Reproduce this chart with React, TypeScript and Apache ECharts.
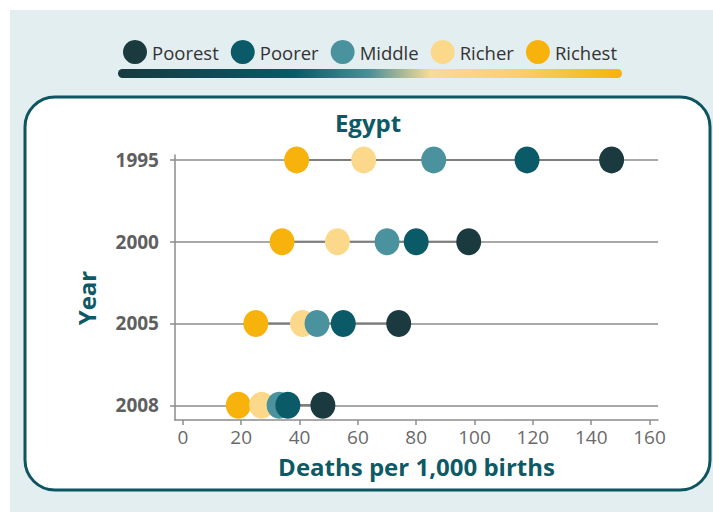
import React, { useEffect, useRef } from "react";
import * as echarts from "echarts";

const years = ["1995", "2000", "2005", "2008"];
const groups = ["Poorest", "Poorer", "Middle", "Richer", "Richest"];
const poorest = [147, 98, 74, 48];
const poorer = [118, 80, 55, 36];
const middle = [86, 70, 46, 33];
const richer = [62, 53, 41, 27];
const richest = [39, 34, 25, 19];
const xTicks = [0, 20, 40, 60, 80, 100, 120, 140, 160];
const colors: Record<string, string> = {
  Poorest: "#1b3a40",
  Poorer: "#0a5a68",
  Middle: "#4a929d",
  Richer: "#fcd98a",
  Richest: "#f8b20c",
};

const FONT = "Open Sans";
const TEAL = "#0d5a66";

export default function App() {
  const ref = useRef<HTMLDivElement>(null);
  useEffect(() => {
    if (!ref.current) return;
    const chart = echarts.init(ref.current, null, { renderer: "svg" });
    const valuesByGroup: Record<string, number[]> = {
      Poorest: poorest,
      Poorer: poorer,
      Middle: middle,
      Richer: richer,
      Richest: richest,
    };
    const rowIdx = years.map((_, i) => i);
    const drawOrder = ["Richest", "Richer", "Middle", "Poorer", "Poorest"];
    const scatterSeries = drawOrder.map((g, k) => ({
      type: "scatter",
      name: g,
      data: valuesByGroup[g].map((v, i) => [v, i]),
      symbol: "circle",
      symbolSize: [25, 27],
      itemStyle: { color: colors[g], opacity: 1 },
      z: 5 + k,
      silent: true,
    }));
    const connectorSeries = years.map((_, i) => {
      const vals = groups.map((g) => valuesByGroup[g][i]);
      return {
        type: "line",
        name: "conn" + i,
        data: [
          [Math.min(...vals), i],
          [Math.max(...vals), i],
        ],
        symbol: "none",
        lineStyle: { color: "#555555", width: 2 },
        z: 3,
        silent: true,
      };
    });
    const rowLines = {
      type: "line",
      name: "rows",
      data: [],
      z: 1,
      silent: true,
      markLine: {
        silent: true,
        symbol: ["none", "none"],
        label: { show: false },
        lineStyle: { color: "#8c8c8c", width: 1.5, type: "solid" },
        data: rowIdx.map((i) => ({ yAxis: i })),
      },
    };

    chart.setOption({
      animation: false,
      textStyle: { fontFamily: FONT },
      graphic: [
        {
          type: "rect",
          z: -20,
          silent: true,
          shape: { x: 10, y: 10, width: 703, height: 502 },
          style: { fill: "#e3eef0" },
        },
        {
          type: "rect",
          z: -19,
          silent: true,
          shape: { x: 25, y: 97, width: 685, height: 393, r: 30 },
          style: { fill: "#ffffff", stroke: "#0d5560", lineWidth: 3 },
        },
        {
          type: "rect",
          z: -18,
          silent: true,
          shape: { x: 118, y: 69, width: 504, height: 9, r: 4.5 },
          style: {
            fill: new echarts.graphic.LinearGradient(0, 0, 1, 0, [
              { offset: 0, color: "#173a40" },
              { offset: 0.35, color: "#0b5866" },
              { offset: 0.5, color: "#4f8f98" },
              { offset: 0.62, color: "#f6dc98" },
              { offset: 0.8, color: "#f9cf6a" },
              { offset: 1, color: "#f7b20c" },
            ]),
          },
        },
        {
          type: "text",
          z: 10,
          x: 368,
          y: 122,
          style: {
            text: "Egypt",
            align: "center",
            verticalAlign: "middle",
            fontSize: 24,
            fontWeight: "bold",
            fontFamily: FONT,
            fill: TEAL,
          },
        },
        {
          type: "text",
          z: 10,
          x: 86,
          y: 298,
          rotation: Math.PI / 2,
          style: {
            text: "Year",
            align: "center",
            verticalAlign: "middle",
            fontSize: 24,
            fontWeight: "bold",
            fontFamily: FONT,
            fill: TEAL,
          },
        },
      ],
      legend: {
        data: groups,
        left: 118,
        top: 35,
        icon: "circle",
        itemWidth: 24,
        itemHeight: 24,
        itemGap: 12,
        selectedMode: false,
        textStyle: { fontSize: 18.5, color: "#333333", fontFamily: FONT },
      },
      grid: { left: 175, right: 55, top: 155, bottom: 94 },
      xAxis: {
        type: "value",
        min: -2.7,
        max: 162.9,
        splitLine: { show: false },
        axisLine: { show: true, onZero: false, lineStyle: { color: "#8c8c8c", width: 1.5 } },
        axisTick: {
          show: true,
          customValues: xTicks,
          length: 5,
          lineStyle: { color: "#8c8c8c", width: 1.5 },
        },
        axisLabel: {
          customValues: xTicks,
          fontSize: 19,
          color: "#6a6a6a",
          margin: 7,
          fontFamily: FONT,
        },
        name: "Deaths per 1,000 births",
        nameLocation: "middle",
        nameGap: 34,
        nameTextStyle: {
          fontSize: 24,
          fontWeight: "bold",
          color: TEAL,
          fontFamily: FONT,
        },
      },
      yAxis: {
        type: "value",
        inverse: true,
        min: -0.06,
        max: 3.18,
        splitLine: { show: false },
        axisLine: { show: true, onZero: false, lineStyle: { color: "#8c8c8c", width: 1.5 } },
        axisTick: {
          show: true,
          customValues: rowIdx,
          length: 5,
          lineStyle: { color: "#8c8c8c", width: 1.5 },
        },
        axisLabel: {
          customValues: rowIdx,
          formatter: (v: number) => years[Math.round(v)] ?? "",
          fontSize: 19,
          fontWeight: "bold",
          color: "#5f5f5f",
          margin: 16,
          fontFamily: FONT,
        },
      },
      series: [rowLines, ...connectorSeries, ...scatterSeries],
    });
    return () => chart.dispose();
  }, []);
  return (
    <div
      ref={ref}
      style={{ position: "fixed", left: 0, top: 0, width: 713, height: 514, background: "#ffffff" }}
    />
  );
}
